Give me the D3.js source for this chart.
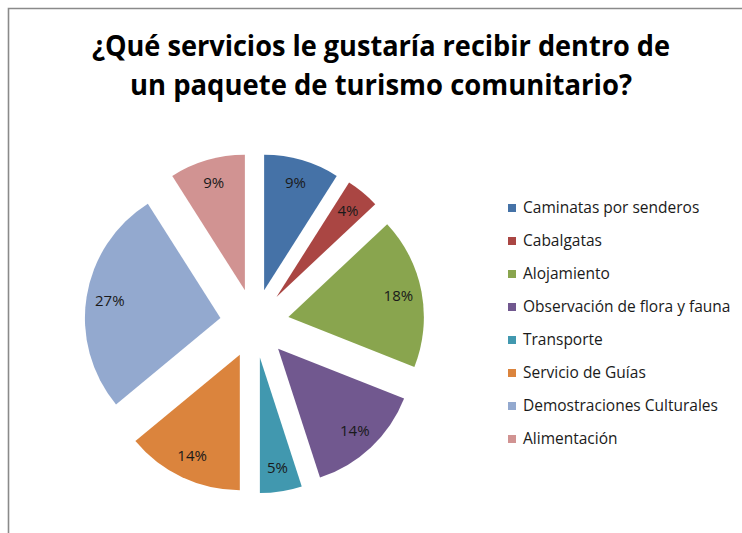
<html>
<head>
<script src="https://cdnjs.cloudflare.com/ajax/libs/d3/7.8.5/d3.min.js"></script>
<style>
  body { margin: 0; background: #fff; }
</style>
</head>
<body>
<div class="chart"></div>
<script>
const width = 742;
const height = 533;

// data
const servicios = [
  "Caminatas por senderos",
  "Cabalgatas",
  "Alojamiento",
  "Observación de flora y fauna",
  "Transporte",
  "Servicio de Guías",
  "Demostraciones Culturales",
  "Alimentación"
];
const porcentajes = [9, 4, 18, 14, 5, 14, 27, 9];
const colores = ["#4572A7", "#AA4643", "#89A54E", "#71588F", "#4198AF", "#DB843D", "#93A9CF", "#D19392"];
const titulo = ["¿Qué servicios le gustaría recibir dentro de", "un paquete de turismo comunitario?"];

const font = "'Open Sans', 'Noto Sans', sans-serif";

const svg = d3.select(".chart")
  .append("svg")
  .attr("width", width)
  .attr("height", height);

// chart frame (only top and left edges show)
svg.append("path")
  .attr("d", "M8.5," + height + "V8.5H" + width)
  .attr("fill", "none")
  .attr("stroke", "#8a8a8a")
  .attr("stroke-width", 1.6);

// Title
const titleWidths = [578, 502];
svg.append("g")
  .selectAll("text")
  .data(titulo)
  .enter()
  .append("text")
  .attr("x", 381)
  .attr("y", (d, i) => 56 + i * 39)
  .attr("text-anchor", "middle")
  .attr("font-family", font)
  .attr("font-weight", "bold")
  .attr("font-size", 28)
  .attr("fill", "#000")
  .attr("textLength", (d, i) => titleWidths[i])
  .attr("lengthAdjust", "spacingAndGlyphs")
  .text(d => d);

// Pie
const cx = 254.5, cy = 323.5, r = 135.5, explode = 34.5;
const pie = d3.pie().sort(null).value(d => d);
const arcs = pie(porcentajes);
const arc = d3.arc().innerRadius(0).outerRadius(r);
const labelArc = d3.arc().innerRadius(112).outerRadius(112);

const gPie = svg.append("g").attr("transform", `translate(${cx},${cy})`);

const slice = gPie.selectAll("g.slice")
  .data(arcs)
  .enter()
  .append("g")
  .attr("class", "slice")
  .attr("transform", d => {
    const a = (d.startAngle + d.endAngle) / 2;
    return `translate(${explode * Math.sin(a)},${-explode * Math.cos(a)})`;
  });

slice.append("path")
  .attr("d", arc)
  .attr("fill", (d, i) => colores[i]);

slice.append("text")
  .attr("transform", d => `translate(${labelArc.centroid(d)})`)
  .attr("text-anchor", "middle")
  .attr("dy", "0.35em")
  .attr("font-family", font)
  .attr("font-size", 15)
  .attr("fill", "#1a1a1a")
  .text(d => d.value + "%");

// Legend
const yL = d3.scaleBand().domain(servicios).range([191.5, 455.5]);
const gL = svg.append("g").attr("id", "legend");
const item = gL.selectAll("g")
  .data(servicios)
  .enter()
  .append("g")
  .attr("transform", d => `translate(508,${yL(d) + yL.bandwidth() / 2})`);

item.append("rect")
  .attr("x", 0)
  .attr("y", -4)
  .attr("width", 8)
  .attr("height", 8)
  .attr("fill", (d, i) => colores[i]);

item.append("text")
  .attr("x", 15)
  .attr("dy", "0.35em")
  .attr("font-family", font)
  .attr("font-size", 15.5)
  .attr("fill", "#1a1a1a")
  .text(d => d);
</script>
</body>
</html>
